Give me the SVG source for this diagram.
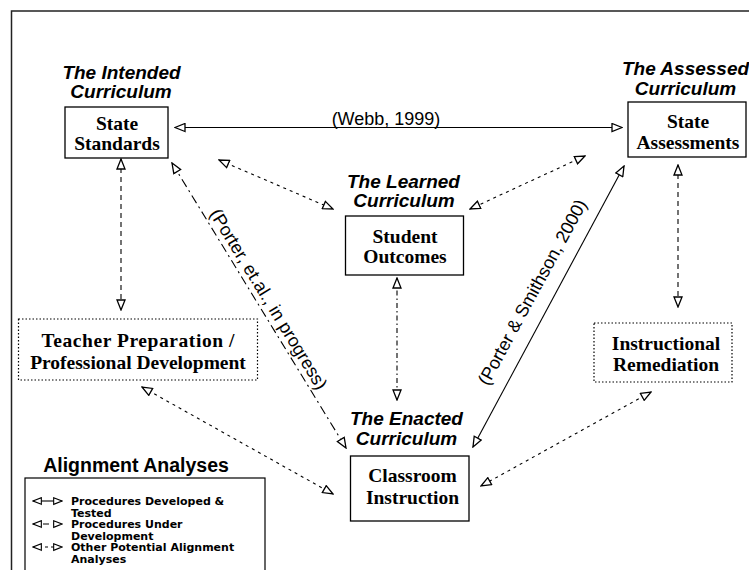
<svg xmlns="http://www.w3.org/2000/svg" width="749" height="570" viewBox="0 0 749 570">
<style>
.lab{font-family:"Liberation Sans",Arial,sans-serif;font-weight:bold;font-style:italic;font-size:19px;fill:#000;text-anchor:middle}
.nt{font-family:"Liberation Serif","Times New Roman",serif;font-weight:bold;font-size:19.5px;fill:#000;text-anchor:middle}
.cit{font-family:"Liberation Sans",Arial,sans-serif;font-size:18px;fill:#000;text-anchor:middle}
.box{fill:#fff;stroke:#000;stroke-width:1.3}
.dbox{fill:#fff;stroke:#000;stroke-width:1.2;stroke-dasharray:1.5,2}
.c{fill:none;stroke:#000;stroke-width:1.1}
.solid{marker-start:url(#ah);marker-end:url(#ah)}
.dash{stroke-dasharray:5,4;marker-start:url(#ah);marker-end:url(#ah)}
.dashdot{stroke-dasharray:9,4,2,4;marker-start:url(#ah);marker-end:url(#ah)}
.dot{stroke-dasharray:3,4;marker-start:url(#ah);marker-end:url(#ah)}
.leg{font-family:"DejaVu Sans",Verdana,sans-serif;font-weight:bold;font-size:11px;fill:#000}
.lc{fill:none;stroke:#000;stroke-width:1.1;marker-start:url(#ahs);marker-end:url(#ahs)}
</style>
<defs>
<marker id="ah" viewBox="0 0 12 10" refX="11" refY="5" markerWidth="12" markerHeight="10" markerUnits="userSpaceOnUse" orient="auto-start-reverse">
<path d="M1,1 L11,5 L1,9 Z" fill="#fff" stroke="#000" stroke-width="1.3"/>
</marker>
<marker id="ahs" viewBox="0 0 12 10" refX="11" refY="5" markerWidth="10" markerHeight="9" markerUnits="userSpaceOnUse" orient="auto-start-reverse">
<path d="M1,1 L11,5 L1,9 Z" fill="#fff" stroke="#000" stroke-width="1.3"/>
</marker>
</defs>
<rect x="0" y="0" width="749" height="570" fill="#fff"/>
<g id="frame" fill="none" stroke="#222" stroke-width="1.5">
<path d="M11.5,570 V11 H749"/>
</g>
<g id="connectors">
<path class="c solid" d="M175,127.5 H622"/>
<path class="c dash" d="M121,159 V310"/>
<path class="c dash" d="M678,165 V307"/>
<path class="c dashdot" d="M397,278 V400" style="stroke-dasharray:5,3,1.5,3"/>
<path class="c dashdot" d="M172,163 L346,448"/>
<path class="c solid" d="M624,166 L473,447"/>
<path class="c dot" d="M219,160 L333,209"/>
<path class="c dot" d="M585,156 L470,209"/>
<path class="c dot" d="M142,387 L333,494"/>
<path class="c dot" d="M651,392 L481,486"/>
<text class="cit" x="386" y="124.5">(Webb, 1999)</text>
<text class="cit" transform="translate(269,299) rotate(58.6)" y="6.5">(Porter, et.al., in progress)</text>
<text class="cit" transform="translate(532,292) rotate(-61.5)" y="6.5">(Porter &amp; Smithson, 2000)</text>
</g>
<g id="intended">
<text class="lab" x="121.5" y="79">The Intended</text>
<text class="lab" x="121" y="98">Curriculum</text>
<rect class="box" x="65" y="107" width="103" height="51"/>
<text class="nt" x="117" y="129.5">State</text>
<text class="nt" x="117" y="150">Standards</text>
</g>
<g id="assessed">
<text class="lab" x="622" y="75" style="text-anchor:start">The Assessed</text>
<text class="lab" x="685.5" y="95">Curriculum</text>
<rect class="box" x="628" y="102" width="118" height="55"/>
<text class="nt" x="688" y="127.5">State</text>
<text class="nt" x="688" y="148.5">Assessments</text>
</g>
<g id="learned">
<text class="lab" x="403.5" y="187.5">The Learned</text>
<text class="lab" x="404" y="206.5">Curriculum</text>
<rect class="box" x="345.5" y="216" width="118" height="59"/>
<text class="nt" x="405" y="242.5">Student</text>
<text class="nt" x="405" y="263">Outcomes</text>
</g>
<g id="enacted">
<text class="lab" x="406.5" y="425">The Enacted</text>
<text class="lab" x="406.5" y="445">Curriculum</text>
<rect class="box" x="350.5" y="456" width="118.5" height="65"/>
<text class="nt" x="412.5" y="481.5">Classroom</text>
<text class="nt" x="412.5" y="503.5">Instruction</text>
</g>
<g id="teacher">
<rect class="dbox" x="18.5" y="319" width="239" height="61"/>
<text class="nt" x="138" y="347" textLength="193" lengthAdjust="spacing">Teacher Preparation /</text>
<text class="nt" x="138" y="369">Professional Development</text>
</g>
<g id="remediation">
<rect class="dbox" x="594" y="323" width="138" height="59"/>
<text class="nt" x="666" y="350">Instructional</text>
<text class="nt" x="666" y="371">Remediation</text>
</g>
<g id="legend">
<text x="136" y="472" style="font-family:'Liberation Sans',Arial,sans-serif;font-weight:bold;font-size:19.5px;text-anchor:middle">Alignment Analyses</text>
<rect x="25" y="478" width="240" height="110" fill="none" stroke="#000" stroke-width="1.2"/>
<path class="lc" d="M33,501 H62"/>
<path class="lc" d="M33,524 H62" style="stroke-dasharray:6,4"/>
<path class="lc" d="M33,547 H62" style="stroke-dasharray:3,3"/>
<text class="leg" x="71" y="505">Procedures Developed &amp;</text>
<text class="leg" x="71" y="516.5">Tested</text>
<text class="leg" x="71" y="528">Procedures Under</text>
<text class="leg" x="71" y="539.5">Development</text>
<text class="leg" x="71" y="551">Other Potential Alignment</text>
<text class="leg" x="71" y="562.5">Analyses</text>
</g>
</svg>
